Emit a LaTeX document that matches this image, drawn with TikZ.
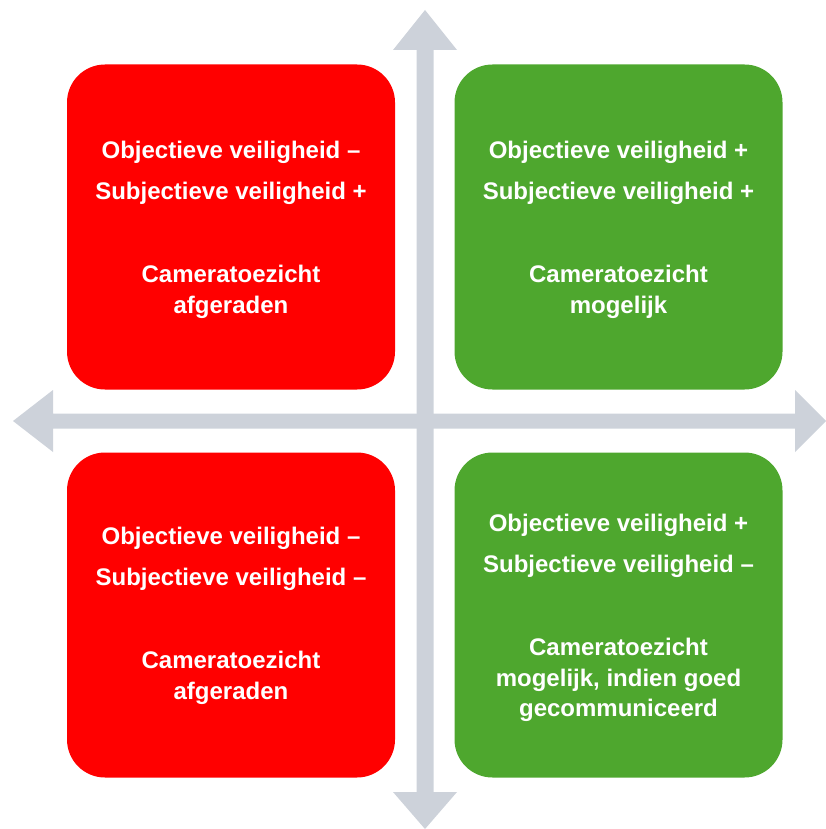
\documentclass[tikz,border=0pt]{standalone}
\usepackage{fontspec}
\setmainfont{Liberation Sans}
\definecolor{qred}{RGB}{255,0,0}
\definecolor{qgreen}{RGB}{78,167,46}
\definecolor{qgray}{RGB}{205,210,218}
\newcommand\qfont{\fontsize{24}{30.5}\bfseries\selectfont}
\tikzset{
  quad/.style={rounded corners=38pt, minimum width=328pt, minimum height=325pt,
    text=white, align=center, font=\qfont, inner sep=0pt},
  redq/.style={quad, fill=qred},
  greenq/.style={quad, fill=qgreen},
  axis/.style={fill=qgray, draw=none}
}
\begin{document}
\begin{tikzpicture}[x=1pt,y=-1pt]
\useasboundingbox (0,0) rectangle (826,829);
% vertical double arrow
\fill[axis] (425,10) -- (457,50) -- (433.5,50) -- (433.5,792) -- (457,792) -- (425,829)
  -- (393,792) -- (416.5,792) -- (416.5,50) -- (393,50) -- cycle;
% horizontal double arrow
\fill[axis] (13,421) -- (53,390) -- (53,413.5) -- (795,413.5) -- (795,390) -- (826,421)
  -- (795,452) -- (795,428.5) -- (53,428.5) -- (53,452) -- cycle;
\node[redq] (tl) at (231,227) {};
\node[align=center, font=\qfont, text=white] (tlt) at (231,230) {Objectieve veiligheid –\\[10pt]Subjectieve veiligheid +\\[53pt]Cameratoezicht\\afgeraden};
\node[greenq] (tr) at (618.5,227) {};
\node[align=center, font=\qfont, text=white] (trt) at (618.5,230) {Objectieve veiligheid +\\[10pt]Subjectieve veiligheid +\\[53pt]Cameratoezicht\\mogelijk};
\node[redq] (bl) at (231,615) {};
\node[align=center, font=\qfont, text=white] (blt) at (231,616) {Objectieve veiligheid –\\[10pt]Subjectieve veiligheid –\\[53pt]Cameratoezicht\\afgeraden};
\node[greenq] (br) at (618.5,615) {};
\node[align=center, font=\qfont, text=white] (brt) at (618.5,618) {Objectieve veiligheid +\\[10pt]Subjectieve veiligheid –\\[53pt]Cameratoezicht\\mogelijk, indien goed\\gecommuniceerd};
\end{tikzpicture}
\end{document}
